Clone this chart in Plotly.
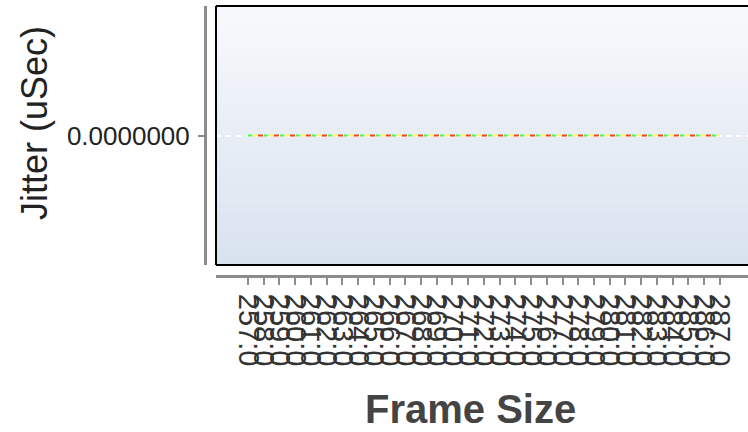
import plotly.graph_objects as go

# ---- data -------------------------------------------------------------
frame_sizes = ["257.0", "258.0", "259.0", "260.0", "261.0", "262.0", "263.0",
               "264.0", "265.0", "266.0", "267.0", "268.0", "269.0", "270.0",
               "271.0", "272.0", "273.0", "274.0", "275.0", "276.0", "277.0",
               "278.0", "279.0", "280.0", "281.0", "282.0", "283.0", "284.0",
               "285.0", "286.0", "287.0"]

jitter_min = [0.0, 0.0, 0.0, 0.0, 0.0, 0.0, 0.0, 0.0, 0.0, 0.0, 0.0,
              0.0, 0.0, 0.0, 0.0, 0.0, 0.0, 0.0, 0.0, 0.0, 0.0, 0.0,
              0.0, 0.0, 0.0, 0.0, 0.0, 0.0, 0.0, 0.0, 0.0]
jitter_avg = [0.0, 0.0, 0.0, 0.0, 0.0, 0.0, 0.0, 0.0, 0.0, 0.0, 0.0,
              0.0, 0.0, 0.0, 0.0, 0.0, 0.0, 0.0, 0.0, 0.0, 0.0, 0.0,
              0.0, 0.0, 0.0, 0.0, 0.0, 0.0, 0.0, 0.0, 0.0]
jitter_max = [0.0, 0.0, 0.0, 0.0, 0.0, 0.0, 0.0, 0.0, 0.0, 0.0, 0.0,
              0.0, 0.0, 0.0, 0.0, 0.0, 0.0, 0.0, 0.0, 0.0, 0.0, 0.0,
              0.0, 0.0, 0.0, 0.0, 0.0, 0.0, 0.0, 0.0, 0.0]

y_tick_values = [0.0]

x_title = "Frame Size"
y_title = "Jitter (uSec)"

# ---- figure -----------------------------------------------------------
FONT = "Arial, Liberation Sans, sans-serif"
AXIS_GREY = "#8c8c8c"

fig = go.Figure()

series = [
    ("Min", jitter_min, "#3cff3c", "4px,12px"),
    ("Avg", jitter_avg, "#ffff3c", "0px,5px,4px,7px"),
    ("Max", jitter_max, "#ff3c3c", "0px,10px,5px,1px"),
]
for name, vals, color, dash in series:
    fig.add_trace(go.Scatter(
        x=frame_sizes, y=vals, name=name, mode="lines",
        line=dict(color=color, width=2, dash=dash),
        showlegend=False,
    ))

W, H = 748, 432
ML, MR, MT, MB = 205, 0, 6, 156
paper_w = W - ML - MR
paper_h = H - MT - MB

def px_x(px):
    return (px - ML) / paper_w

def px_y(py):
    return (H - MB - py) / paper_h

# vertical gradient background of the plotting area
shapes = []
n_bands = 64
top_rgb = (248, 249, 252)
bot_rgb = (216, 226, 239)
for k in range(n_bands):
    t = (k + 0.5) / n_bands
    c = tuple(round(top_rgb[i] + (bot_rgb[i] - top_rgb[i]) * t) for i in range(3))
    shapes.append(dict(
        type="rect", xref="x domain", yref="y domain",
        x0=0, x1=1, y0=max(0, 1 - (k + 1) / n_bands - 0.002), y1=1 - k / n_bands,
        line=dict(width=0), fillcolor="rgb(%d,%d,%d)" % c, layer="below",
    ))
# black frame (left, top, bottom)
for (x0, y0, x1, y1) in [(0, 0, 0, 1), (0, 1, 1, 1), (0, 0, 1, 0)]:
    shapes.append(dict(
        type="line", xref="x domain", yref="y domain",
        x0=x0, y0=y0, x1=x1, y1=y1,
        line=dict(color="#000000", width=2), layer="above",
    ))

annotations = [
    dict(text="<b>%s</b>" % x_title, xref="paper", yref="paper",
         x=px_x(470), y=px_y(409), xanchor="center", yanchor="middle",
         showarrow=False, font=dict(size=40, color="#444444", family=FONT)),
    dict(text=y_title, xref="paper", yref="paper",
         x=px_x(34), y=px_y(123), xanchor="center", yanchor="middle",
         textangle=-90, showarrow=False,
         font=dict(size=36, color="#222222", family=FONT)),
]

fig.update_layout(
    width=W, height=H,
    margin=dict(l=ML, r=MR, t=MT, b=MB, pad=0, autoexpand=False),
    paper_bgcolor="white",
    plot_bgcolor="rgba(0,0,0,0)",
    font=dict(family=FONT, color="#222222"),
    shapes=shapes,
    annotations=annotations,
    showlegend=False,
    xaxis=dict(
        type="category",
        domain=[px_x(216), 1],
        range=[-2.03, 31.79],
        anchor="free", position=0,
        automargin=False,
        showline=True, linecolor=AXIS_GREY, linewidth=3,
        tickmode="linear", tick0=0, dtick=1,
        ticks="outside", ticklen=7, tickwidth=2, tickcolor=AXIS_GREY,
        tickangle=90,
        tickfont=dict(size=29, color="#333333", family=FONT),
        ticklabelstandoff=3,
        showgrid=False, zeroline=False,
    ),
    yaxis=dict(
        domain=[px_y(265), 1],
        range=[-1, 1],
        anchor="free", position=0,
        automargin=False,
        tickmode="array", tickvals=y_tick_values, tickformat=".7f",
        showline=True, linecolor=AXIS_GREY, linewidth=3,
        ticks="outside", ticklen=6, tickwidth=2, tickcolor=AXIS_GREY,
        tickfont=dict(size=26, color="#222222", family=FONT),
        ticklabelstandoff=3,
        showgrid=True, gridcolor="white", griddash="5px,5px", gridwidth=1.5,
        zeroline=False,
    ),
)

fig.write_html(
    "out.html",
    config={"displayModeBar": False},
    post_script="document.body.style.margin='0';document.body.style.overflow='hidden';",
)
